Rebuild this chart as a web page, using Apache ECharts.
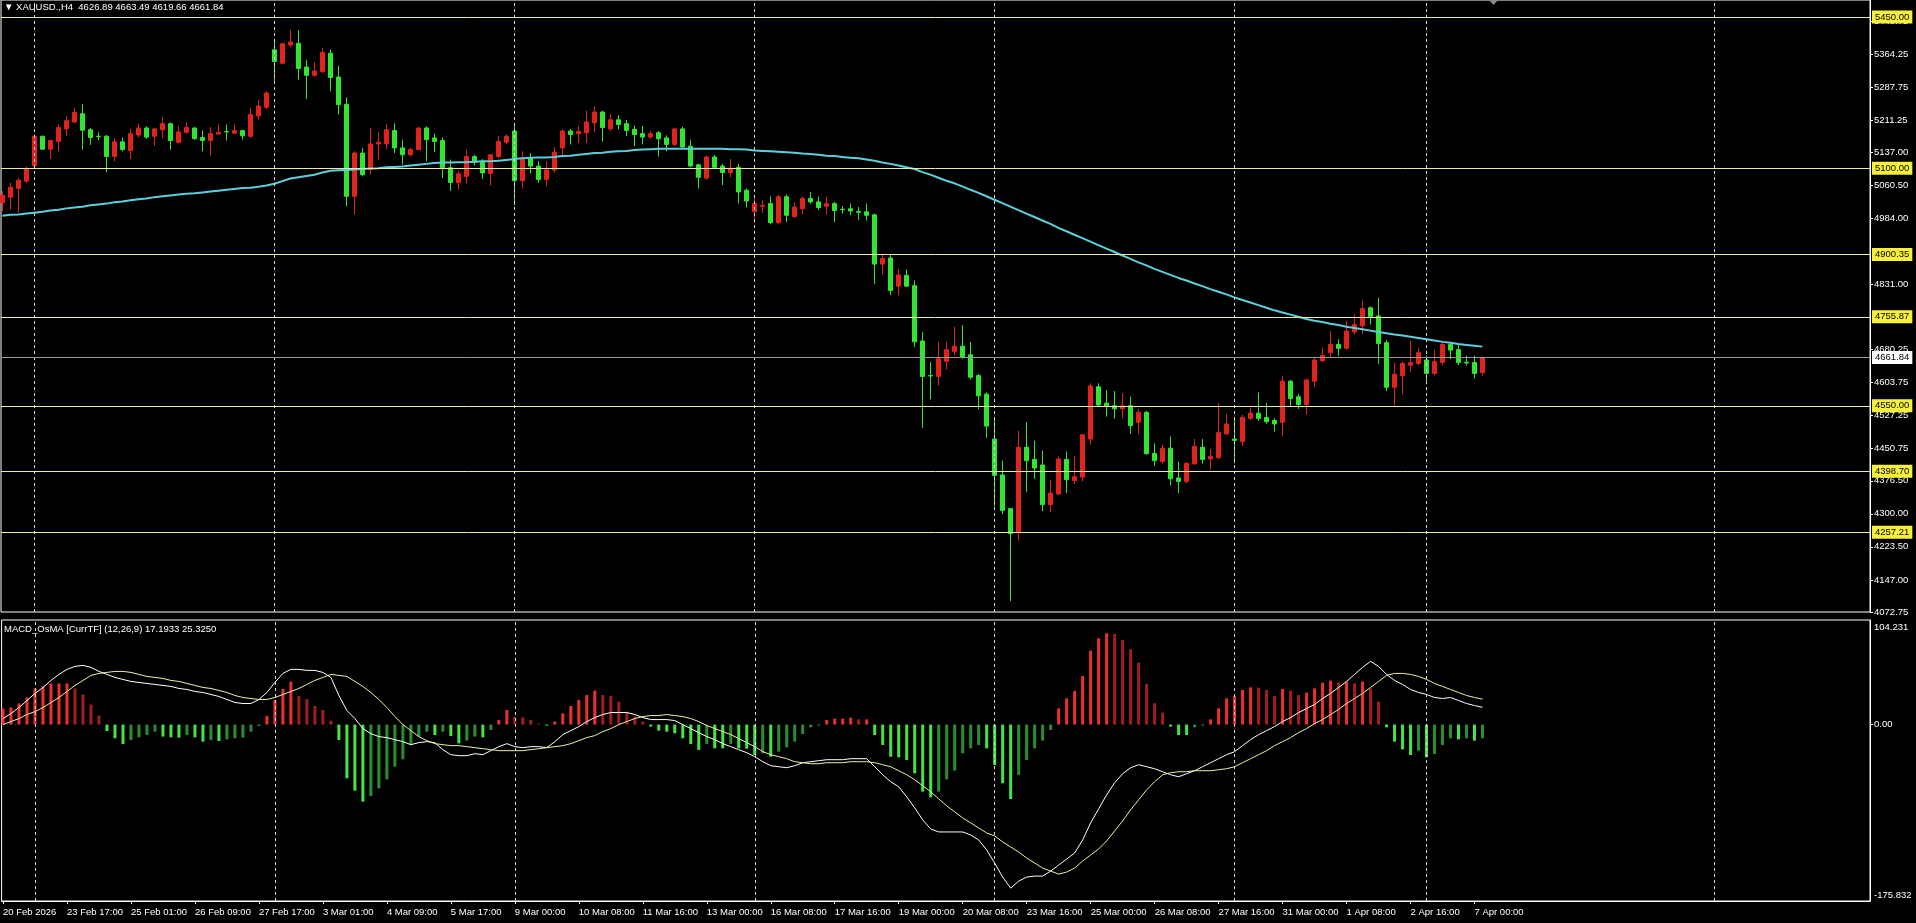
<!DOCTYPE html>
<html><head><meta charset="utf-8">
<script src="https://cdn.jsdelivr.net/npm/echarts@6.0.0/dist/echarts.min.js"></script>
<style>html,body{margin:0;padding:0;background:#000;overflow:hidden}#c{width:1916px;height:923px}</style>
</head><body><div id="c"></div>
<script>
// ---------- data ----------
const tickLabels = ['20 Feb 2026','23 Feb 17:00','25 Feb 01:00','26 Feb 09:00','27 Feb 17:00','3 Mar 01:00','4 Mar 09:00','5 Mar 17:00','9 Mar 00:00','10 Mar 08:00','11 Mar 16:00','13 Mar 00:00','16 Mar 08:00','17 Mar 16:00','19 Mar 00:00','20 Mar 08:00','23 Mar 16:00','25 Mar 00:00','26 Mar 08:00','27 Mar 16:00','31 Mar 00:00','1 Apr 08:00','2 Apr 16:00','7 Apr 00:00'];
const tickBars = [0,8,16,24,32,40,48,56,64,72,80,88,96,104,112,120,128,136,144,152,160,168,176,184];
const weekStartBars = [4,34,64,94,124,154,178,214];
const priceTicks = [5440.75,5364.25,5287.75,5211.25,5137.00,5060.50,4984.00,4831.00,4680.25,4603.75,4527.25,4450.75,4376.50,4300.00,4223.50,4147.00,4072.75];
const levelPrices = [5450.00,5100.00,4900.35,4755.87,4550.00,4398.70,4257.21];
const bidPrice = 4661.84;
const macdTicks = [104.231,0,-175.832];

const opens = [5020,5033,5053,5070,5106,5174,5144,5162,5191,5207,
5226,5189,5174,5174,5127,5161,5141,5177,5193,5174,
5189,5203,5160,5183,5193,5171,5164,5179,5185,5181,
5187,5174,5221,5241,5374,5343,5385,5389,5334,5315,
5324,5366,5311,5248,5035,5135,5097,5156,5157,5187,
5147,5131,5143,5193,5170,5164,5101,5067,5081,5127,
5116,5088,5127,5160,5186,5071,5123,5105,5074,5096,
5147,5186,5180,5182,5205,5230,5191,5212,5203,5190,
5180,5172,5182,5170,5155,5191,5151,5108,5077,5126,
5105,5090,5102,5049,4999,5012,5018,4974,5034,4988,
5006,5030,5022,5012,5018,5005,5006,5000,4999,4992,
4878,4892,4827,4852,4828,4700,4620,4618,4653,4676,
4688,4668,4620,4577,4473,4390,4312,4256,4454,4426,
4413,4321,4346,4426,4377,4385,4473,4594,4556,4550,
4543,4550,4512,4535,4440,4421,4452,4383,4375,4416,
4454,4427,4430,4485,4473,4467,4521,4533,4523,4516,
4512,4607,4571,4553,4607,4654,4673,4692,4683,4721,
4735,4777,4758,4696,4593,4620,4644,4648,4656,4625,
4650,4692,4680,4651,4650,4626.89];
const closes = [5037,5056,5072,5097,5174,5144,5164,5194,5210,5229,
5188,5171,5173,5127,5161,5143,5180,5193,5172,5191,
5203,5164,5184,5194,5168,5164,5180,5183,5184,5187,
5175,5224,5244,5274,5347,5388,5392,5331,5315,5325,
5368,5310,5247,5035,5135,5085,5156,5160,5189,5147,
5131,5143,5193,5166,5162,5101,5067,5087,5127,5114,
5089,5131,5162,5174,5071,5123,5105,5074,5096,5137,
5186,5178,5185,5207,5230,5194,5212,5201,5187,5178,
5172,5180,5168,5155,5191,5149,5105,5079,5126,5102,
5090,5100,5045,5024,5018,5014,4974,5034,4991,5010,
5030,5022,5009,5018,5002,5004,5001,4998,4991,4878,
4891,4817,4853,4827,4698,4618,4619,4659,4680,4688,
4663,4616,4573,4503,4389,4308,4254,4454,4423,4406,
4321,4348,4427,4379,4386,4483,4596,4552,4550,4543,
4550,4504,4535,4439,4423,4452,4381,4375,4417,4456,
4426,4433,4488,4508,4470,4523,4533,4521,4513,4508,
4607,4567,4553,4610,4656,4667,4692,4683,4723,4738,
4775,4757,4694,4593,4623,4648,4650,4673,4625,4652,
4692,4679,4650,4649,4625,4661.84];
const lows = [5000,5004,4997,5066,5104,5143,5121,5139,5175,5204,
5143,5154,5164,5091,5116,5139,5121,5171,5168,5152,
5170,5143,5157,5180,5166,5139,5129,5178,5164,5179,
5166,5170,5212,5237,5302,5341,5380,5305,5260,5312,
5320,5278,5224,5012,4993,5081,5085,5120,5144,5135,
5108,5128,5143,5116,5137,5077,5047,5050,5064,5106,
5075,5060,5124,5155,5014,5053,5088,5066,5059,5090,
5131,5155,5158,5158,5183,5162,5186,5190,5174,5151,
5155,5168,5127,5139,5151,5147,5102,5053,5073,5100,
5061,5079,5018,5009,4973,4996,4970,4970,4975,4985,
4993,5018,5004,4993,4975,4995,4991,4980,4979,4832,
4854,4806,4806,4825,4686,4499,4565,4597,4634,4667,
4659,4611,4542,4476,4317,4299,4098,4238,4350,4381,
4306,4304,4343,4348,4369,4375,4460,4548,4525,4520,
4521,4485,4485,4437,4411,4416,4366,4348,4371,4413,
4416,4402,4427,4483,4417,4457,4517,4515,4508,4490,
4480,4550,4543,4530,4594,4652,4661,4666,4680,4715,
4716,4738,4647,4584,4550,4577,4629,4644,4600,4621,
4644,4658,4644,4643,4613,4619.66];
const highs = [5047,5066,5077,5104,5178,5175,5164,5201,5220,5239,
5248,5193,5183,5177,5170,5171,5191,5203,5197,5193,
5218,5206,5198,5206,5195,5187,5195,5201,5201,5201,
5189,5239,5258,5278,5395,5389,5420,5419,5351,5345,
5379,5374,5337,5264,5139,5147,5193,5183,5202,5204,
5166,5147,5195,5197,5180,5171,5120,5093,5143,5131,
5121,5133,5174,5178,5201,5139,5135,5116,5116,5149,
5190,5191,5198,5233,5243,5233,5225,5223,5212,5199,
5198,5186,5186,5176,5194,5196,5166,5110,5129,5131,
5110,5121,5110,5053,5030,5026,5035,5038,5039,5020,
5034,5045,5034,5034,5022,5012,5018,5010,5018,4995,
4901,4901,4866,4866,4840,4721,4651,4698,4698,4733,
4737,4698,4624,4581,4520,4423,4313,4492,4512,4469,
4446,4379,4433,4444,4433,4485,4602,4602,4586,4584,
4579,4571,4543,4538,4463,4460,4479,4421,4420,4473,
4473,4450,4556,4531,4523,4529,4546,4581,4557,4521,
4620,4610,4577,4613,4663,4685,4723,4704,4747,4762,
4794,4780,4800,4702,4650,4652,4700,4683,4666,4679,
4697,4698,4694,4666,4666,4663.49];
const maValues = [4990,4992,4993,4995,4997,4999,5002,5004,5007,5009,
5011,5014,5016,5018,5021,5023,5026,5028,5030,5033,
5035,5037,5039,5041,5042,5044,5046,5048,5050,5052,
5054,5055,5057,5060,5064,5070,5076,5079,5082,5085,
5090,5094,5095,5096,5097,5098,5099,5100,5102,5103,
5104,5106,5108,5110,5112,5113,5113,5114,5114,5115,
5116,5116,5117,5119,5121,5123,5124,5125,5125,5126,
5128,5129,5131,5133,5135,5136,5138,5139,5140,5142,
5143,5144,5145,5145,5145,5145,5145,5145,5145,5145,
5145,5144,5144,5143,5141,5140,5139,5138,5137,5136,
5134,5133,5131,5129,5128,5126,5124,5123,5120,5117,
5113,5110,5106,5102,5098,5091,5085,5078,5071,5065,
5058,5050,5043,5035,5027,5019,5011,5003,4995,4987,
4979,4971,4962,4954,4946,4938,4930,4922,4914,4906,
4898,4890,4882,4875,4867,4860,4853,4846,4840,4833,
4827,4820,4814,4808,4801,4795,4789,4783,4777,4771,
4766,4761,4756,4751,4747,4744,4740,4737,4733,4730,
4727,4724,4721,4718,4715,4713,4710,4707,4704,4701,
4698,4696,4693,4691,4689,4687];
const macdMain = [6,11,17,24,31,37,44,50,55,58,
59,57,53,50,47,45,43,42,41,40,
39,38,36,35,33,32,30,28,25,22,
21,21,25,32,42,51,55,55,54,54,
52,47,29,14,6,-4,-9,-12,-13,-15,
-17,-20,-18,-17,-18,-25,-30,-31,-31,-29,
-30,-26,-22,-19,-22,-23,-22,-22,-23,-17,
-10,-6,-2,3,7,10,12,12,12,10,
7,5,5,5,4,0,-4,-8,-12,-15,
-19,-22,-25,-28,-32,-37,-41,-42,-43,-41,
-38,-37,-36,-35,-35,-35,-34,-34,-34,-42,
-50,-57,-62,-72,-83,-95,-104,-107,-107,-107,
-107,-110,-115,-125,-138,-152,-163,-156,-152,-151,
-151,-146,-140,-134,-128,-115,-98,-84,-70,-58,
-49,-43,-40,-42,-44,-47,-50,-52,-49,-46,
-42,-38,-34,-30,-27,-21,-15,-10,-6,-2,
3,7,12,16,20,26,31,37,43,50,
57,63,58,50,44,40,35,32,30,27,
26,27,24,21,19,17.1933];
const macdSignal = [0,3,6,10,13,17,22,27,33,39,
44,49,51,52,53,53,52,50,48,47,
46,44,43,41,39,37,36,34,32,29,
27,26,25,25,27,30,33,36,40,44,
47,50,49,48,43,38,32,25,17,8,
0,-6,-12,-16,-19,-20,-21,-21,-22,-23,
-24,-25,-26,-26,-26,-26,-25,-24,-23,-22,
-21,-19,-16,-13,-11,-7,-4,0,3,6,
8,9,9,10,9,8,6,3,-1,-4,
-7,-10,-14,-18,-22,-27,-30,-32,-34,-37,
-38,-39,-39,-38,-38,-38,-37,-37,-37,-38,
-40,-42,-46,-50,-55,-61,-67,-74,-81,-87,
-93,-98,-103,-108,-111,-117,-122,-127,-133,-138,
-143,-146,-149,-147,-143,-136,-130,-124,-116,-106,
-96,-85,-75,-65,-57,-50,-48,-47,-47,-46,
-46,-46,-45,-44,-42,-38,-34,-30,-26,-21,
-17,-13,-8,-4,1,5,10,15,21,26,
31,37,43,49,51,51,50,48,45,41,
38,35,32,29,27,25.325];
const osmaHist = [16,17,21,27,36,38,41,41,41,36,
30,20,9,-6.4,-13.7,-19.3,-15.4,-12.7,-10.4,-7.1,
-12,-12.7,-13,-10.4,-12.7,-17,-15.4,-16.4,-14.7,-13.7,
-13,-7.1,-1.4,8.6,24.5,35.5,42.8,28.5,25.5,18.5,
14.5,4,-15.4,-53.6,-65.9,-76.8,-71.2,-63.5,-54.6,-42,
-34.6,-20.3,-12,-7.1,-10.4,-7.1,-11.4,-18.7,-16,-12,
-12.7,-5.4,4.6,14.5,7.9,7.2,4.6,0.8,-1,3,
11.2,18.5,24.5,29.5,33.8,29.5,28.5,22.8,12.9,7.9,
2.9,-2,-6,-7.1,-8.7,-13.7,-19.3,-25.3,-19.3,-23.7,
-23.7,-19.3,-23.7,-24,-30.3,-28.6,-32,-27,-22.7,-17,
-9.4,-2.7,-1,4.6,5.9,5.9,6.9,5.2,5.2,-10.4,
-20.3,-32,-32.6,-35.3,-48.6,-66.8,-72.5,-66.8,-54.6,-45.9,
-28.6,-23.7,-20.3,-23.7,-40.3,-58.5,-74.2,-50.2,-35.3,-23.7,
-16,-5.4,16.2,26.2,33.5,48.4,73.7,86,91,90.3,
84.3,75,61.7,40.4,21.2,11.9,-2,-10.4,-10.4,-2.7,
-1,5.2,16.2,26.2,28.5,34.5,37.1,36.8,34.5,28.5,
35.5,33.8,29.5,31.8,36.1,41.8,43.8,41.8,42.8,41.1,
42.8,36.1,22.8,-2.7,-17,-24.7,-30.3,-26,-32.6,-29.3,
-20.3,-13.7,-14.7,-13.7,-16,-13.7];

// ---------- styling ----------
const FONT = '"Liberation Sans", Arial, sans-serif';
const FS = 9.5;
const UP = '#e3211d', DOWN = '#33e533';
const XMIN = -0.175, XMAX = 233.45;

const candleData = opens.map((o, i) => [i, o, closes[i], lows[i], highs[i]]);
const maData = maValues.map((v, i) => [i, v]);
const mainData = macdMain.map((v, i) => [i, v]);
const sigData = macdSignal.map((v, i) => [i, v]);
const histData = osmaHist.map((v, i) => {
  const p = i > 0 ? osmaHist[i - 1] : 0;
  let c;
  if (v >= 0) c = v >= p ? '#f0302a' : '#a31d19';
  else c = v <= p ? '#44e644' : '#2a8f2a';
  return { value: [i, v], itemStyle: { color: c } };
});

const dashed = { color: '#d8d8d8', width: 1, type: [3, 3] };
const gridLines = (xi, yi) => ({
  type: 'line', xAxisIndex: xi, yAxisIndex: yi, data: [], z: 1, silent: true,
  markLine: { symbol: 'none', silent: true, animation: false, label: { show: false },
    lineStyle: dashed, data: weekStartBars.map(b => ({ xAxis: b })) }
});

const levelLabel = (bg) => ({
  show: true, position: 'end', distance: 2, formatter: p => Number(p.value).toFixed(2),
  backgroundColor: bg, color: '#000', padding: [2, 3, 1, 3], fontSize: FS, fontFamily: FONT
});

const option = {
  backgroundColor: '#000',
  animation: false,
  textStyle: { fontFamily: FONT },
  grid: [
    { left: 1, top: 0, width: 1869, height: 612, show: true, borderColor: '#ffffff', borderWidth: 1 },
    { left: 1, top: 620, width: 1869, height: 281, show: true, borderColor: '#ffffff', borderWidth: 1 }
  ],
  xAxis: [
    { type: 'value', gridIndex: 0, min: XMIN, max: XMAX, axisLine: { show: false, onZero: false },
      axisTick: { show: false }, axisLabel: { show: false }, splitLine: { show: false } },
    { type: 'value', gridIndex: 1, min: XMIN, max: XMAX, position: 'bottom',
      axisLine: { show: true, onZero: false, lineStyle: { color: '#fff' } },
      axisTick: { show: true, customValues: tickBars, length: 3, lineStyle: { color: '#fff' } },
      axisLabel: { show: true, customValues: tickBars, color: '#fff', fontSize: FS, fontFamily: FONT,
        align: 'left', margin: 6, formatter: v => tickLabels[Math.round(v / 8)] },
      splitLine: { show: false } }
  ],
  yAxis: [
    { type: 'value', gridIndex: 0, position: 'right', min: 4072.75, max: 5489.3,
      axisLine: { show: true, onZero: false, lineStyle: { color: '#fff' } },
      axisTick: { show: true, customValues: priceTicks, length: 3, lineStyle: { color: '#fff' } },
      axisLabel: { show: true, customValues: priceTicks, color: '#fff', fontSize: FS, fontFamily: FONT,
        margin: 4, formatter: v => v.toFixed(2) },
      splitLine: { show: false } },
    { type: 'value', gridIndex: 1, position: 'right', min: -175.832, max: 104.231,
      axisLine: { show: true, onZero: false, lineStyle: { color: '#fff' } },
      axisTick: { show: true, customValues: [0], length: 3, lineStyle: { color: '#fff' } },
      axisLabel: { show: true, customValues: macdTicks, color: '#fff', fontSize: FS, fontFamily: FONT,
        margin: 4,
        formatter: v => v > 50 ? '{t|' + v.toFixed(3) + '}' : (v < -50 ? '{b|' + v.toFixed(3) + '}' : '{n|' + v.toFixed(2) + '}'),
        rich: {
          t: { padding: [14, 0, 0, 0], color: '#fff', fontSize: FS, fontFamily: FONT },
          b: { padding: [0, 0, 12, 0], color: '#fff', fontSize: FS, fontFamily: FONT },
          n: { color: '#fff', fontSize: FS, fontFamily: FONT }
        } },
      splitLine: { show: false } }
  ],
  graphic: [
    { type: 'text', left: 4, top: 2, silent: true,
      style: { text: '\u25BC XAUUSD.,H4  4626.89 4663.49 4619.66 4661.84', fill: '#ffffff', fontSize: FS, fontFamily: FONT } },
    { type: 'text', left: 4, top: 624, silent: true,
      style: { text: 'MACD_OsMA [CurrTF] (12,26,9) 17.1933 25.3250', fill: '#ffffff', fontSize: FS, fontFamily: FONT } },
    { type: 'polygon', silent: true, shape: { points: [[1489, 0], [1498, 0], [1493.5, 5]] }, style: { fill: '#8a8a8a' } }
  ],
  series: [
    gridLines(0, 0),
    gridLines(1, 1),
    { type: 'candlestick', name: 'XAUUSD', xAxisIndex: 0, yAxisIndex: 0, z: 3,
      data: candleData, encode: { x: 0, y: [1, 2, 3, 4] }, barWidth: 4,
      itemStyle: { color: UP, color0: DOWN, borderColor: UP, borderColor0: DOWN, borderWidth: 1 },
      markLine: { symbol: 'none', silent: true, animation: false,
        data: levelPrices.map(v => ({ yAxis: v, lineStyle: { color: '#eeeaa0', width: 1, type: 'solid' }, label: levelLabel('#f6f03a') }))
          .concat([{ yAxis: bidPrice, lineStyle: { color: '#9a9a9a', width: 1, type: 'solid' }, label: levelLabel('#ffffff') }]) } },
    { type: 'line', name: 'MA', xAxisIndex: 0, yAxisIndex: 0, z: 4, data: maData, showSymbol: false,
      silent: true, lineStyle: { color: '#5ccfdd', width: 2 } },
    { type: 'bar', name: 'OsMA', xAxisIndex: 1, yAxisIndex: 1, z: 2, data: histData, barWidth: 3, silent: true },
    { type: 'line', name: 'MACD', xAxisIndex: 1, yAxisIndex: 1, z: 4, data: mainData, showSymbol: false,
      silent: true, lineStyle: { color: '#ffffff', width: 1 } },
    { type: 'line', name: 'Signal', xAxisIndex: 1, yAxisIndex: 1, z: 4, data: sigData, showSymbol: false,
      silent: true, lineStyle: { color: '#f3eea6', width: 1 } }
  ]
};
const chart = echarts.init(document.getElementById('c'));
chart.setOption(option);
</script>
</body></html>
